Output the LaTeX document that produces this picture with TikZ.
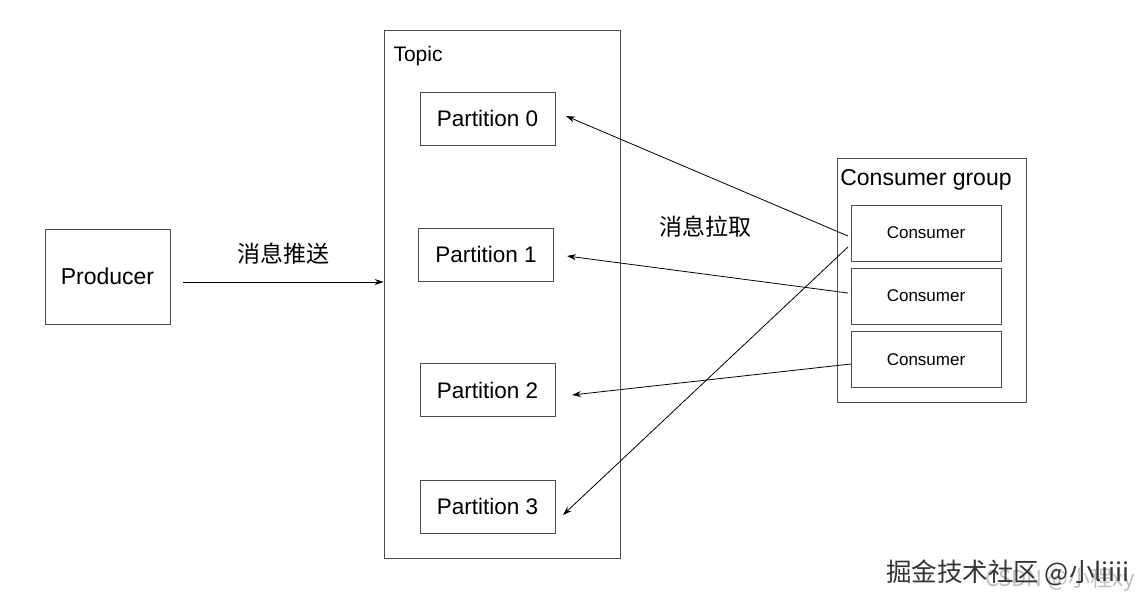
\documentclass[tikz,border=0pt]{standalone}
\usepackage{fontspec}
\setmainfont{Liberation Sans}
\newfontfamily\cjk{Noto Sans CJK SC}
\usetikzlibrary{arrows.meta}
\tikzset{
  box/.style={draw=black!70, line width=0.6pt, inner sep=0pt},
  part/.style={box, minimum width=135pt, minimum height=53pt, font=\fontsize{22.5}{22.5}\selectfont},
  cons/.style={box, minimum width=150pt, minimum height=56pt, font=\fontsize{17}{17}\selectfont},
  pull/.style={-{Stealth[length=9pt,width=6pt]}, line width=0.8pt}
}
\begin{document}
\begin{tikzpicture}[x=1pt,y=-1pt]
    \useasboundingbox (0,0) rectangle (1146,605);
    %Producer side
    \node[box, minimum width=125pt, minimum height=95pt, font=\fontsize{23}{23}\selectfont] (producer) at (107.5,276.5) {Producer};
    \node[box, minimum width=236pt, minimum height=528pt] (topic) at (502,294) {};
    \node[anchor=west, font=\fontsize{21}{21}\selectfont] (topiclabel) at (390,56) {Topic};
    \coordinate (push) at (183,282);
    \coordinate (topicin) at (topic.west |- push);
    \draw[pull] (push) -- (topicin) node[midway, above=14pt, font=\cjk\fontsize{23}{23}\selectfont] {消息推送};
    %Partitions
    \node[part] (p0) at (487.5,118.5) {Partition 0};
    \node[part] (p1) at (486,254.5) {Partition 1};
    \node[part] (p2) at (487.5,390) {Partition 2};
    \node[part] (p3) at (487.5,506.5) {Partition 3};
    %Consumer group
    \node[box, minimum width=189pt, minimum height=244pt] (group) at (931.5,280) {};
    \node[font=\fontsize{23}{23}\selectfont] (grouplabel) at (926,180) {Consumer group};
    \node[cons] (c0) at (926,233) {Consumer};
    \node[cons] (c1) at (926,296) {Consumer};
    \node[cons] (c2) at (926,359.5) {Consumer};
    \node[font=\cjk\fontsize{23}{23}\selectfont] (pulllabel) at (705,227) {消息拉取};
    %Arrows
    \coordinate (a0) at (848,236);
    \coordinate (a3) at (848,247);
    \coordinate (a1) at (848,293);
    \coordinate (a2) at (851,364);
    \coordinate (t0) at (566,116);
    \coordinate (t1) at (567,256);
    \coordinate (t2) at (572,395);
    \coordinate (t3) at (563,515);
    \draw[pull] (a0) -- (t0);
    \draw[pull] (a1) -- (t1);
    \draw[pull] (a2) -- (t2);
    \draw[pull] (a3) -- (t3);
    %Watermarks
    \node[text=black!25, font=\cjk\fontsize{22}{22}\selectfont] (csdn) at (1060,580) {CSDN @小程xy};
    \node[text=black!80, font=\cjk\fontsize{25.5}{25.5}\selectfont] (juejin) at (1008,573) {掘金技术社区 @小liiii};
\end{tikzpicture}
\end{document}
